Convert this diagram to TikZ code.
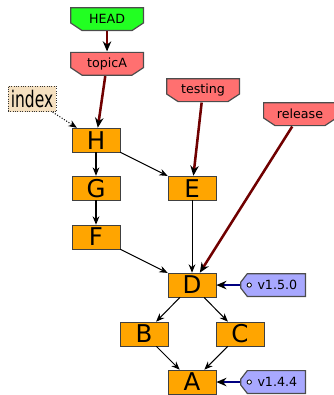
\documentclass[tikz,border=0pt]{standalone}
\usepackage{fontspec}
\setmainfont{DejaVu Sans}
\newfontfamily\narrowfont[FakeStretch=0.68]{DejaVu Sans}
\usetikzlibrary{arrows.meta}
\definecolor{commitorange}{RGB}{255,165,0}
\definecolor{branchred}{RGB}{255,112,112}
\definecolor{headgreen}{RGB}{34,255,34}
\definecolor{tagblue}{RGB}{168,168,255}
\definecolor{idxbeige}{RGB}{245,224,192}
\definecolor{darkred}{RGB}{112,0,0}
\definecolor{darkblue}{RGB}{0,0,128}

\begin{document}
\begin{tikzpicture}
  [commit/.style={rectangle,draw=black!75,fill=commitorange,minimum width=1cm,minimum height=0.5cm,
     inner sep=0pt,font=\fontsize{14.5}{15}\selectfont},
   cutbottom/.style={path picture={\filldraw[draw=black!70,fill=#1,line width=0.7pt]
     ([shift={(0.35pt,-0.35pt)}]path picture bounding box.north west)
     -- ([shift={(-0.35pt,-0.35pt)}]path picture bounding box.north east)
     -- ([shift={(-0.35pt,0.17cm)}]path picture bounding box.south east)
     -- ([shift={(-0.25cm,0.35pt)}]path picture bounding box.south east)
     -- ([shift={(0.25cm,0.35pt)}]path picture bounding box.south west)
     -- ([shift={(0.35pt,0.17cm)}]path picture bounding box.south west) -- cycle;}},
   cutleft/.style={path picture={\filldraw[draw=black!70,fill=#1,line width=0.7pt]
     ([shift={(0.15cm,-0.35pt)}]path picture bounding box.north west)
     -- ([shift={(-0.35pt,-0.35pt)}]path picture bounding box.north east)
     -- ([shift={(-0.35pt,0.35pt)}]path picture bounding box.south east)
     -- ([shift={(0.15cm,0.35pt)}]path picture bounding box.south west)
     -- ([shift={(0.35pt,0.19cm)}]path picture bounding box.south west)
     -- ([shift={(0.35pt,-0.19cm)}]path picture bounding box.north west) -- cycle;
     \draw[fill=white,line width=0.5pt] ([xshift=0.19cm]path picture bounding box.west) circle (0.045);}},
   branch/.style={rectangle,cutbottom=branchred,minimum width=1.54cm,minimum height=0.5cm,
     inner sep=0pt,font=\fontsize{7.5}{8}\selectfont},
   headref/.style={rectangle,cutbottom=headgreen,minimum width=1.54cm,minimum height=0.5cm,
     inner sep=0pt,font=\fontsize{7.5}{8}\selectfont},
   tagref/.style={rectangle,cutleft=tagblue,minimum width=1.375cm,minimum height=0.5cm,
     inner sep=0pt,font=\fontsize{7.5}{8}\selectfont},
   indexbox/.style={rectangle,draw=black!80,densely dotted,fill=idxbeige,minimum width=1cm,
     minimum height=0.54cm,inner sep=0pt,font=\narrowfont\fontsize{13.5}{14}\selectfont},
   parent/.style={-{Stealth[length=5pt,width=4pt]},black,line width=0.6pt},
   branchptr/.style={-{Stealth[length=6pt,width=5pt,color=black]},darkred,line width=1.5pt},
   tagptr/.style={-{Stealth[length=6pt,width=5pt,color=black]},darkblue,line width=1.5pt}]
  \useasboundingbox (0,0) rectangle (6.958,8.229);
  % commits
  \node[commit] (ch) at (2,5.31) {H};
  \node[commit] (cg) at (2,4.31) {G};
  \node[commit] (cf) at (2,3.29) {F};
  \node[commit] (ce) at (4,4.31) {E};
  \node[commit] (cd) at (4,2.29) {D};
  \node[commit] (cb) at (3,1.27) {B};
  \node[commit] (cc) at (5,1.27) {C};
  \node[commit] (ca) at (4,0.27) {A};
  \foreach \from/\to in {ch/cg,ch/ce,cg/cf,cf/cd,ce/cd,cd/cb,cd/cc,cb/ca,cc/ca}
    \draw[parent] (\from) -- (\to);
  % refs
  \node[headref] (head) at (2.23,7.83) {HEAD};
  \node[branch] (topica) at (2.23,6.90) {topicA};
  \node[branch] (testing) at (4.23,6.35) {testing};
  \node[branch] (release) at (6.25,5.85) {release};
  \foreach \from/\to in {head/topica,topica/ch,testing/ce,release/cd}
    \draw[branchptr] (\from) -- (\to);
  \node[tagref] (tgd) at (5.69,2.29) {\hspace{5pt}v1.5.0};
  \node[tagref] (tga) at (5.69,0.27) {\hspace{5pt}v1.4.4};
  \draw[tagptr] (tgd) -- (cd);
  \draw[tagptr] (tga) -- (ca);
  % index
  \node[indexbox] (idx) at (0.667,6.17) {index};
  \draw[parent,densely dotted] (idx) -- (ch);
\end{tikzpicture}
\end{document}
